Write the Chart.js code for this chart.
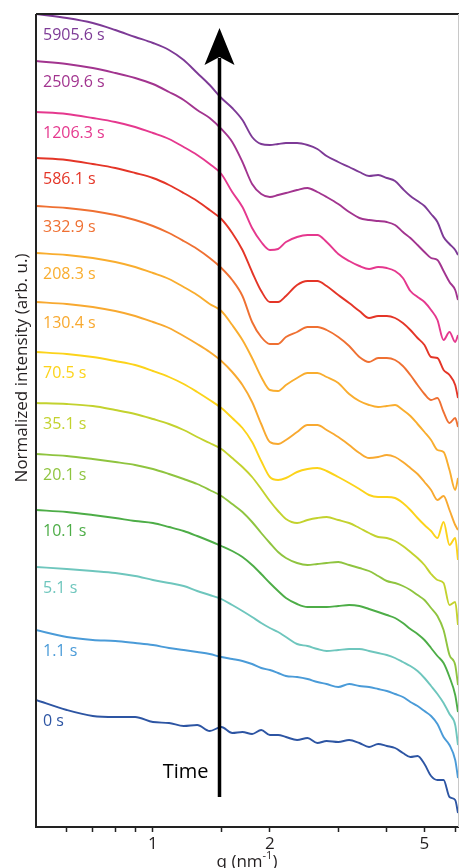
<!DOCTYPE html>
<html>
<head>
<meta charset="utf-8">
<script src="https://cdn.jsdelivr.net/npm/chart.js@4.4.1/dist/chart.umd.min.js"></script>
<style>
  html, body { margin: 0; padding: 0; background: #fff; }
  #wrap { width: 459px; height: 868px; position: relative; }
</style>
</head>
<body>
<div id="wrap"><canvas id="chart" width="459" height="868"></canvas></div>
<script>
// q grid (nm^-1)
const qValues = [0.5, 0.6, 0.7, 0.8, 0.9, 1.0, 1.1, 1.2, 1.3, 1.4, 1.5, 1.6, 1.7, 1.8, 1.9, 2.0, 2.1, 2.2, 2.35, 2.5,
  2.65, 2.8, 3.0, 3.2, 3.4, 3.6, 3.8, 4.0, 4.2, 4.4, 4.6, 4.8, 5.0, 5.2, 5.4, 5.6, 5.8, 6.0, 6.1];

// stacked (offset) normalized intensity, arb. u.
const s5905 = [813,809,804,797,790,784,777,767,754,742,729,719,707,690,683,682,683,684,684,682,678,671,665,660,655,651,652,649,646,638,631,626,621,613,605,590,583,577,572];
const s2509 = [766,763,759,754,749,743,735,727,717,709,698,685,665,643,633,630,632,634,637,639,635,630,623,615,609,607,606,605,602,595,589,582,575,569,567,556,545,537,527];
const s1206 = [715,713,709,705,700,694,688,680,672,663,653,635,620,599,585,577,578,585,590,592,592,585,573,566,561,558,560,559,556,549,536,530,525,517,507,487,495,485,492];
const s586 = [669,667,663,659,654,649,642,634,626,617,608,594,577,555,536,525,525,531,542,546,546,541,532,524,516,509,511,511,509,504,497,489,482,470,469,457,452,442,429];
const s332 = [621,619,616,612,607,601,594,586,578,569,559,547,531,505,490,483,483,490,495,500,500,497,490,481,470,465,469,469,467,461,452,442,433,427,429,415,404,409,400];
const s208 = [574,572,569,565,560,554,548,540,532,523,516,502,487,469,450,437,436,442,449,454,454,450,444,433,426,422,420,421,422,417,411,403,395,387,377,375,357,337,349];
const s130 = [525,523,520,516,511,505,499,491,483,475,466,455,442,425,403,385,383,387,395,402,402,397,390,382,374,369,370,372,370,365,359,353,345,337,327,331,317,302,297];
const s70 = [475,473,470,466,462,456,450,443,435,427,419,409,399,385,366,350,347,349,355,358,359,356,350,344,338,332,330,330,329,324,317,309,302,296,289,305,282,289,267];
const s35 = [424,423,421,417,413,408,403,397,390,384,378,369,360,350,338,326,316,308,304,307,309,310,307,304,299,294,290,289,286,281,275,269,262,253,247,244,222,225,202];
const s20 = [373,371,368,365,362,358,353,348,343,337,331,323,315,305,294,284,275,269,264,262,263,264,265,262,259,256,251,246,244,241,237,232,227,219,211,197,172,162,142];
const s10 = [317,315,312,309,306,304,300,296,291,286,281,276,270,262,253,244,236,229,223,220,220,220,221,222,221,218,215,212,209,204,198,193,187,179,171,164,150,132,115];
const s5 = [260,258,256,254,251,247,244,241,236,232,228,222,216,210,204,199,195,190,183,181,178,176,177,178,178,176,174,172,169,165,161,156,149,141,133,124,113,102,82];
const s1 = [197,190,187,186,184,182,179,177,175,173,170,168,166,163,159,157,154,151,150,148,145,143,140,143,141,140,138,136,133,130,125,121,116,111,103,90,82,67,49];
const s0 = [127,117,111,110,110,105,104,101,102,96,100,94,95,93,97,92,92,90,87,89,84,86,85,87,84,80,83,81,79,74,70,71,63,51,47,47,30,27,14];

const seriesLabels = ["5905.6 s", "2509.6 s", "1206.3 s", "586.1 s", "332.9 s", "208.3 s", "130.4 s",
  "70.5 s", "35.1 s", "20.1 s", "10.1 s", "5.1 s", "1.1 s", "0 s"];
const seriesData = [s5905, s2509, s1206, s586, s332, s208, s130, s70, s35, s20, s10, s5, s1, s0];
const seriesColors = ["#7d3a96", "#a2348f", "#e5388e", "#e43527", "#ef7032", "#f9ad2e", "#f8a930",
  "#fcd31a", "#c3d22e", "#8fc43f", "#4dad47", "#6ec6bd", "#4a9bd8", "#2d55a3"];

const xTicks = [0.6, 0.7, 0.8, 0.9, 1, 1.5, 2, 3, 4, 5, 6];
const xTickLabels = [1, 2, 5];
const arrowQ = 1.48;

const FONT = "'Open Sans', 'DejaVu Sans', sans-serif";

// curve labels, arrow, frame and axis titles
const decor = {
  id: "decor",
  afterDatasetsDraw(chart) {
    const { ctx, chartArea: a, scales } = chart;
    ctx.save();
    // frame: top black, right light gray
    ctx.strokeStyle = "#222";
    ctx.lineWidth = 2;
    ctx.beginPath();
    ctx.moveTo(a.left, a.top);
    ctx.lineTo(chart.width, a.top);
    ctx.stroke();
    ctx.beginPath();
    ctx.moveTo(a.left, a.top);
    ctx.lineTo(a.left, a.bottom);
    ctx.stroke();
    ctx.strokeStyle = "#c8c8c8";
    ctx.lineWidth = 1;
    ctx.beginPath();
    ctx.moveTo(a.right + 0.5, a.top);
    ctx.lineTo(a.right + 0.5, a.bottom);
    ctx.stroke();

    // series labels near the start of each curve
    ctx.font = "16px " + FONT;
    ctx.textAlign = "left";
    ctx.textBaseline = "middle";
    chart.data.datasets.forEach((ds, i) => {
      const p = chart.getDatasetMeta(i).data[0];
      ctx.fillStyle = seriesColors[i];
      ctx.fillText(seriesLabels[i], a.left + 7, p.y + 21);
    });

    // time arrow
    const ax = Math.round(scales.x.getPixelForValue(arrowQ)) + 0.5;
    ctx.strokeStyle = "#000";
    ctx.fillStyle = "#000";
    ctx.lineWidth = 3.5;
    ctx.beginPath();
    ctx.moveTo(ax, 797);
    ctx.lineTo(ax, 58);
    ctx.stroke();
    ctx.beginPath();
    ctx.moveTo(ax, 28);
    ctx.lineTo(ax + 15, 65);
    ctx.lineTo(ax, 57);
    ctx.lineTo(ax - 15, 65);
    ctx.closePath();
    ctx.fill();
    ctx.font = "20px " + FONT;
    ctx.textAlign = "right";
    ctx.fillText("Time", ax - 11, 772);

    // axis titles
    ctx.fillStyle = "#231f20";
    ctx.textBaseline = "alphabetic";
    const cx = (a.left + a.right) / 2;
    const base = 867;
    ctx.font = "17px " + FONT;
    const w1 = ctx.measureText("q (nm").width;
    const w2 = ctx.measureText(")").width;
    ctx.font = "11px " + FONT;
    const wsup = ctx.measureText("-1").width;
    const x0 = cx - (w1 + wsup + w2) / 2;
    ctx.textAlign = "left";
    ctx.font = "17px " + FONT;
    ctx.fillText("q (nm", x0, base);
    ctx.font = "11px " + FONT;
    ctx.fillText("-1", x0 + w1, base - 8);
    ctx.font = "17px " + FONT;
    ctx.fillText(")", x0 + w1 + wsup, base);

    ctx.translate(22, 368);
    ctx.rotate(-Math.PI / 2);
    ctx.textAlign = "center";
    ctx.textBaseline = "middle";
    ctx.font = "17px " + FONT;
    ctx.fillText("Normalized intensity (arb. u.)", 0, 0);
    ctx.restore();
  }
};

new Chart(document.getElementById("chart").getContext("2d"), {
  type: "line",
  data: {
    datasets: seriesData.map((vals, i) => ({
      label: seriesLabels[i],
      data: qValues.map((q, j) => ({ x: q, y: vals[j] })),
      borderColor: seriesColors[i],
      borderWidth: 1.9,
      pointRadius: 0,
      cubicInterpolationMode: "monotone",
      fill: false,
    })),
  },
  options: {
    responsive: false,
    animation: false,
    devicePixelRatio: 1,
    layout: { padding: { left: 36, top: 14, right: 1, bottom: 0 } },
    plugins: { legend: { display: false }, tooltip: { enabled: false } },
    scales: {
      x: {
        type: "logarithmic",
        min: 0.5,
        max: 6.1,
        afterBuildTicks: (s) => { s.ticks = xTicks.map((v) => ({ value: v })); },
        afterFit: (s) => { s.height = 41; },
        ticks: {
          autoSkip: false,
          maxRotation: 0,
          padding: 2,
          color: "#231f20",
          font: { size: 17, family: FONT },
          callback: (v) => (xTickLabels.includes(v) ? String(v) : ""),
        },
        grid: { drawOnChartArea: false, tickLength: 5, tickColor: "#222", tickWidth: 1.5 },
        border: { color: "#222", width: 2 },
      },
      y: { display: false, min: 0, max: 813 },
    },
  },
  plugins: [decor],
});
</script>
</body>
</html>
